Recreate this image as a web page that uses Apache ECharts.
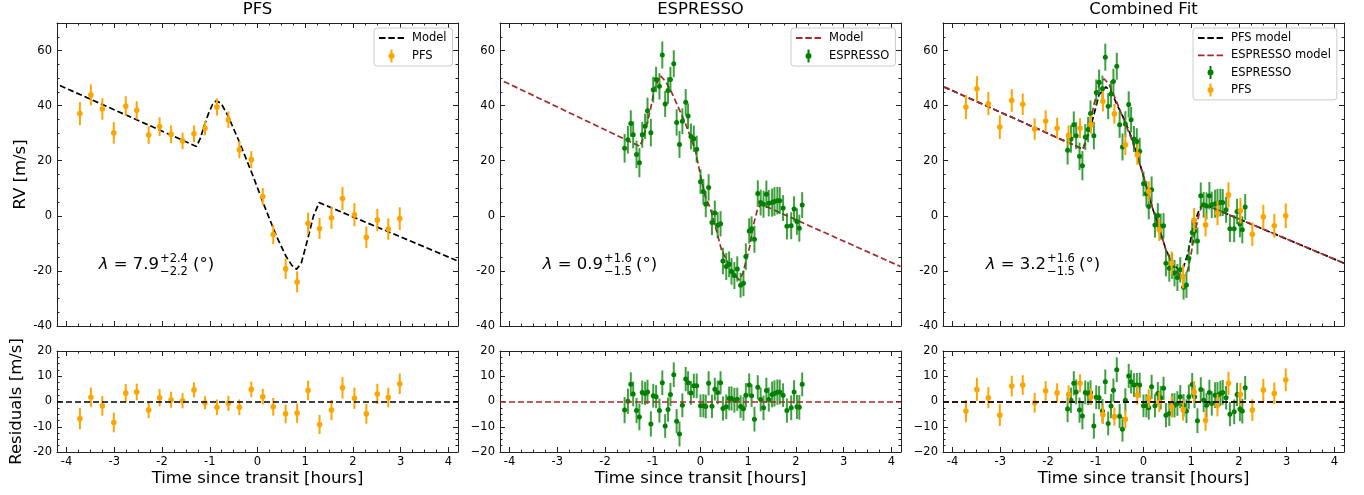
<!DOCTYPE html>
<html>
<head>
<meta charset="utf-8">
<script src="https://cdn.jsdelivr.net/npm/echarts@6/dist/echarts.min.js"></script>
<style>
    html, body {margin: 0; padding: 0; background: #fff;}
    #main {width: 1364px; height: 495px;}
</style>
</head>
<body>
<div id="main"></div>
<script>
// ---- PFS (panel 1) ----
const pfsT = [-3.72, -3.49, -3.25, -3.01, -2.76, -2.53, -2.28, -2.05, -1.81, -1.57, -1.33, -1.10, -0.85, -0.61, -0.38,
    -0.13, 0.11, 0.33, 0.59, 0.83, 1.06, 1.30, 1.55, 1.78, 2.03, 2.28, 2.51, 2.74, 2.98];
const pfsRV = [37.1, 43.9, 38.8, 30.1, 39.8, 38.3, 29.3, 32.4, 29.6, 27.2, 29.8, 31.8, 39.5, 34.9, 24.0,
    20.4, 7.0, -6.8, -19.2, -24.0, -2.7, -4.6, -0.7, 6.3, 0.4, -7.8, -1.5, -4.8, -1.0];
const pfsErr = [4.2, 3.8, 3.9, 3.9, 3.6, 3.3, 3.2, 3.4, 3.2, 3.0, 3.0, 2.6, 3.1, 3.0, 3.1,
    3.1, 3.1, 3.5, 3.7, 3.8, 3.9, 3.8, 4.0, 4.2, 4.2, 3.9, 4.0, 3.9, 4.1];
const pfsRes = [-6.8, 1.7, -1.7, -8.3, 3.3, 3.8, -3.4, 1.5, 0.7, 0.3, 4.6, -0.5, -2.3, -0.7, -2.3,
    4.8, 1.9, -2.1, -4.9, -4.6, 4.4, -9.1, -3.4, 5.4, 1.3, -4.9, 3.0, 1.6, 7.0];
const pfsModelT = [-4.14, -1.28, -1.20, -1.12, -1.03, -0.94, -0.86, -0.76, -0.61, -0.37, -0.09, 0.12, 0.40, 0.60,
    0.72, 0.82, 0.92, 1.03, 1.17, 1.29, 4.17];
const pfsModelRV = [47.3, 25.2, 28.0, 32.5, 37.0, 40.5, 41.8, 40.8, 36.0, 26.4, 14.3, 4.6, -7.5, -14.8,
    -18.0, -19.4, -17.0, -9.9, -0.2, 4.8, -16.2];

// ---- ESPRESSO (panel 2) ----
const espT = [-1.59, -1.52, -1.46, -1.41, -1.34, -1.28, -1.22, -1.16, -1.11, -1.04, -0.99, -0.93, -0.86, -0.80, -0.74,
    -0.68, -0.63, -0.56, -0.50, -0.44, -0.38, -0.31, -0.26, -0.20, -0.14, -0.08, 0.00, 0.06, 0.11, 0.17,
    0.24, 0.30, 0.36, 0.42, 0.47, 0.54, 0.60, 0.65, 0.71, 0.77, 0.84, 0.90, 0.95, 1.02, 1.07,
    1.13, 1.20, 1.26, 1.32, 1.38, 1.43, 1.50, 1.55, 1.61, 1.66, 1.73, 1.81, 1.90, 1.96, 2.02, 2.07, 2.13];
const espRV = [24.5, 27.6, 33.5, 29.4, 22.3, 19.3, 29.4, 32.5, 38.1, 30.2, 45.8, 49.5, 47.0, 58.4, 40.6,
    45.5, 49.5, 55.2, 33.9, 25.9, 34.3, 41.2, 36.2, 28.8, 28.0, 24.2, 12.4, 8.8, 4.2, 10.3,
    -2.4, 1.0, -3.4, -2.9, -16.4, -18.4, -17.6, -20.2, -21.7, -19.3, -25.2, -24.5, -14.8, -5.5, -4.7,
    -8.5, 8.1, 4.8, 4.2, 7.8, 4.6, 4.8, 5.2, 5.5, 5.5, 2.8, -3.8, -3.6, 2.5, -2.1, -4.5, 3.9];
const espErr = [5.2, 5.0, 4.8, 4.9, 5.0, 5.3, 4.7, 4.6, 4.8, 5.0, 4.7, 4.6, 4.8, 4.9, 4.7,
    4.8, 4.6, 4.9, 4.8, 4.9, 4.7, 4.8, 4.6, 4.7, 4.8, 4.9, 4.5, 4.6, 4.7, 4.8,
    4.6, 4.5, 4.7, 4.6, 4.8, 4.9, 4.7, 4.8, 4.9, 4.6, 4.5, 4.7, 4.8, 4.6, 4.5,
    4.9, 4.8, 4.7, 4.9, 5.0, 4.8, 5.1, 5.2, 5.0, 4.9, 4.7, 4.8, 4.9, 4.6, 4.8, 4.9, 4.7];
const espRes = [-3.4, 0.1, 6.8, 3.0, -3.6, -6.1, 3.6, 3.2, 3.8, -8.9, 2.3, 1.9, -3.6, 7.4, -9.7,
    -3.2, 2.8, 10.6, -7.8, -12.9, -1.5, 8.9, 7.4, 3.4, 6.2, 6.2, -1.7, -1.7, -2.0, 7.2,
    -1.9, 4.9, 3.6, 7.4, -2.8, -2.1, 1.2, 1.2, 0.5, 0.9, -2.0, -2.9, 2.5, 6.5, 2.3,
    -7.0, 5.6, 0.8, -2.5, 4.4, 0.8, 2.8, 3.2, 3.7, 3.8, 2.5, -3.6, -2.5, 3.8, -2.1, -2.3, 6.8];
const espModelT = [-4.12, -1.27, -1.21, -1.15, -1.05, -0.96, -0.84, -0.72, -0.60, -0.46, -0.32, -0.11, -0.01, 0.10,
    0.20, 0.33, 0.44, 0.58, 0.68, 0.81, 0.89, 0.96, 1.03, 1.10, 1.20, 1.27, 4.19];
const espModelRV = [48.8, 25.2, 27.8, 31.3, 38.5, 46.4, 50.9, 48.5, 44.6, 39.2, 33.7, 24.0, 15.5, 7.0,
    3.0, -5.1, -12.4, -17.2, -20.8, -23.3, -20.8, -16.0, -11.2, -3.9, 2.8, 4.2, -18.4];

// ---- Combined fit (panel 3) ----
const pfsRVComb = [39.5, 46.1, 40.7, 32.2, 41.9, 40.5, 31.5, 34.4, 31.8, 29.2, 31.8, 33.1, 41.6, 37.0, 25.8,
    22.2, 8.8, -5.1, -17.2, -22.1, -1.5, -3.3, 1.0, 7.6, 1.8, -6.7, -0.4, -3.6, 0.0];
const pfsErrComb = [4.4, 4.6, 4.2, 4.3, 4.1, 3.9, 3.9, 3.9, 3.8, 3.6, 3.6, 3.3, 3.7, 3.6, 3.7,
    3.7, 3.7, 4.0, 4.2, 4.2, 4.3, 4.2, 4.4, 4.6, 4.6, 4.3, 4.4, 4.3, 4.5];
const pfsResComb = [-3.8, 4.8, 1.5, -5.4, 6.1, 6.5, -0.5, 4.2, 3.4, 2.8, 7.2, 1.9, -5.2, -6.0, -7.0,
    2.5, 1.2, -0.2, -2.1, -3.4, 3.8, -7.4, -1.5, 7.2, 2.8, -3.4, 4.6, 3.2, 8.6];
const espRVComb = [23.8, 27.9, 33.1, 29.1, 21.6, 18.2, 28.6, 31.3, 37.1, 29.1, 44.8, 48.5, 46.1, 57.6, 39.8,
    44.2, 48.8, 54.3, 33.1, 25.0, 33.3, 40.4, 34.9, 27.9, 27.0, 23.4, 11.6, 8.0, 3.4, 9.5,
    -3.3, 0.1, -3.9, -3.6, -17.2, -19.0, -18.2, -20.8, -22.4, -19.6, -25.9, -25.1, -15.4, -6.1, -5.5,
    -9.1, 7.3, 4.0, 3.6, 7.3, 4.0, 4.4, 4.6, 4.8, 4.8, 2.2, -4.7, -4.7, 1.6, -3.0, -5.1, 3.2];
const espResComb = [-3.0, 0.5, 7.2, 3.8, -3.4, -5.7, 3.6, 3.2, 3.6, -9.7, 1.7, 1.5, -3.8, 7.8, -8.7,
    -1.8, 4.5, 12.6, -5.8, -11.0, 0.5, 10.1, 7.8, 6.5, 6.5, 6.5, -1.7, -1.7, -2.5, 5.8,
    -1.7, 3.2, 1.5, 5.2, -5.4, -4.8, -1.5, -1.5, -0.8, 1.9, -1.5, -3.8, 1.9, 6.7, 1.9,
    -7.6, 4.8, 0.5, -1.5, 3.6, -0.8, 2.5, 2.5, 3.2, 3.6, 1.5, -5.0, -4.1, 2.8, -3.0, -3.8, 5.4];
const combPfsModelT = [-4.18, -1.27, -1.14, -1.03, -0.93, -0.79, -0.68, -0.54, -0.40, -0.23, -0.06, 0.08, 0.20,
    0.33, 0.47, 0.61, 0.72, 0.82, 0.93, 1.03, 1.14, 1.24, 4.20];
const combPfsModelRV = [46.8, 24.2, 30.1, 37.3, 44.0, 46.8, 45.2, 39.8, 34.9, 27.6, 17.9, 9.5, 2.2,
    -4.5, -12.4, -17.2, -19.3, -19.6, -13.6, -5.1, 1.0, 4.4, -17.2];
const combEspModelT = [-4.18, -1.27, -1.14, -1.03, -0.93, -0.82, -0.72, -0.61, -0.44, -0.26, -0.06, 0.08, 0.20,
    0.33, 0.47, 0.61, 0.75, 0.84, 0.93, 1.00, 1.07, 1.17, 1.24, 4.20];
const combEspModelRV = [46.8, 24.2, 31.3, 41.0, 47.6, 49.7, 47.6, 43.4, 36.1, 28.2, 17.9, 9.5, 2.2,
    -4.5, -12.4, -17.5, -21.5, -22.7, -19.6, -13.6, -6.3, 1.0, 4.4, -17.2];

// ---- axes / ticks ----
const titles = ['PFS', 'ESPRESSO', 'Combined Fit'];
const lambdaVals = [['7.9', '+2.4', '\u22122.2'], ['0.9', '+1.6', '\u22121.5'], ['3.2', '+1.6', '\u22121.5']];
const xTicks = [-4, -3, -2, -1, 0, 1, 2, 3, 4];
const rvTicks = [-40, -20, 0, 20, 40, 60];
const resTicks = [-20, -10, 0, 10, 20];
const X_MIN = -4.2, X_MAX = 4.2;

function minorTicks(from, to, step, major) {
    const out = [];
    for (let v = from; v <= to + 1e-9; v += step) {
        const r = Math.round(v * 1000) / 1000;
        if (major.indexOf(r) < 0) out.push(r);
    }
    return out;
}
const xMinor = minorTicks(-4, 4, 0.25, xTicks);
const rvMinor = minorTicks(-40, 70, 5, rvTicks);
const resMinor = minorTicks(-20, 20, 2.5, resTicks);

const C_PFS = '#ffa500', C_ESP = '#008000', C_BROWN = '#a52a2a', C_AX = '#222';
const FONT = 'DejaVu Sans';
// legend icons: errorbar marker and dashed line, both in a 25x14 box
const EB_ICON = 'path://M0,0M25,14M11.5,0.5h2v4h-2zM11.5,9.5h2v4h-2z' +
    'M15.5,7a3,3 0 1,1 -6,0a3,3 0 1,1 6,0z';
const DASH_ICON = 'path://M0,0M25,14M0,6.1h6.5v1.8h-6.5zM9.3,6.1h6.5v1.8h-6.5zM18.6,6.1h6.4v1.8h-6.4z';

const zip = (a, b) => a.map((v, i) => [v, b[i]]);
const zip3 = (a, b, c) => a.map((v, i) => [v, b[i], c[i]]);
const hyphen = v => String(v);
const minus = v => (v < 0 ? '\u2212' + (-v) : String(v));

const colLeft = [57, 500, 943];
const grids = [];
colLeft.forEach(l => {
    grids.push({left: l, top: 23, width: 401, height: 303, outerBoundsMode: 'none'});
    grids.push({left: l, top: 351, width: 401, height: 101, outerBoundsMode: 'none'});
});

const xAxes = [], yAxes = [];
function addAxes(list, gi, dim, min, max, major, minor, label, extra) {
    const sides = dim === 'x' ? ['bottom', 'top'] : ['left', 'right'];
    sides.forEach((pos, si) => {
        [major, minor].forEach((vals, k) => {
            const ax = {
                type: 'value', gridIndex: gi, position: pos, min: min, max: max,
                axisLine: {show: k === 0, onZero: false, lineStyle: {color: C_AX, width: 1}},
                splitLine: {show: false},
                axisTick: {show: true, inside: true, length: k === 0 ? 5 : 2.5, customValues: vals,
                    lineStyle: {color: C_AX, width: 1}},
                axisLabel: {show: false}
            };
            if (si === 0 && k === 0) {
                if (label) {
                    ax.axisLabel = {show: true, customValues: major, color: '#000', fontSize: 11.5,
                        fontFamily: FONT, margin: dim === 'x' ? 4 : 5, formatter: label};
                }
                if (extra) Object.assign(ax, extra);
            }
            list.push(ax);
        });
    });
}

const nameStyle = {fontSize: 16.5, color: '#000', fontFamily: FONT};
for (let c = 0; c < 3; c++) {
    const gTop = c * 2, gRes = c * 2 + 1;
    addAxes(xAxes, gTop, 'x', X_MIN, X_MAX, xTicks, xMinor, null, null);
    addAxes(yAxes, gTop, 'y', -40, 70, rvTicks, rvMinor, hyphen,
        c === 0 ? {name: 'RV [m/s]', nameLocation: 'middle', nameGap: 27, nameTextStyle: nameStyle} : null);
    addAxes(xAxes, gRes, 'x', X_MIN, X_MAX, xTicks, xMinor, hyphen,
        {name: 'Time since transit [hours]', nameLocation: 'middle', nameGap: 18, nameTextStyle: nameStyle});
    addAxes(yAxes, gRes, 'y', -20, 20, resTicks, resMinor, c === 0 ? hyphen : minus,
        c === 0 ? {name: 'Residuals [m/s]', nameLocation: 'middle', nameGap: 32, nameTextStyle: nameStyle} : null);
}

function errRender(color, barW, r, barOpacity) {
    return function (params, api) {
        const x = api.value(0), y = api.value(1), e = api.value(2);
        const lo = api.coord([x, y - e]), hi = api.coord([x, y + e]), c = api.coord([x, y]);
        return {
            type: 'group',
            children: [
                {type: 'line', shape: {x1: lo[0], y1: lo[1], x2: hi[0], y2: hi[1]},
                    style: {stroke: color, lineWidth: barW, opacity: barOpacity}},
                {type: 'circle', shape: {cx: c[0], cy: c[1], r: r}, style: {fill: color}}
            ]
        };
    };
}

function errSeries(name, gi, t, v, e, color, barW, r, op, zeroColor) {
    const s = {
        type: 'custom', name: name, xAxisIndex: gi * 4, yAxisIndex: gi * 4,
        data: zip3(t, v, e), encode: {x: 0, y: 1},
        renderItem: errRender(color, barW, r, op),
        itemStyle: {color: color}, z: 3, silent: true
    };
    if (zeroColor) {
        s.markLine = {silent: true, symbol: 'none', label: {show: false}, animation: false,
            lineStyle: {color: zeroColor, type: [6, 3], width: 1.7}, data: [{yAxis: 0}]};
    }
    return s;
}

function modelSeries(name, gi, t, v, color) {
    return {
        type: 'line', name: name, xAxisIndex: gi * 4, yAxisIndex: gi * 4,
        data: zip(t, v), symbol: 'none', showSymbol: false, silent: true, z: 2,
        lineStyle: {color: color, width: 1.7, type: [6, 3]}, itemStyle: {color: color}
    };
}

const series = [
    modelSeries('Model', 0, pfsModelT, pfsModelRV, '#000'),
    errSeries('PFS', 0, pfsT, pfsRV, pfsErr, C_PFS, 2, 2.8, 1),
    errSeries('pfs-res', 1, pfsT, pfsRes, pfsErr, C_PFS, 2, 2.8, 1, '#000'),

    modelSeries('Model ', 2, espModelT, espModelRV, C_BROWN),
    errSeries('ESPRESSO', 2, espT, espRV, espErr, C_ESP, 2, 2.5, 0.75),
    errSeries('esp-res', 3, espT, espRes, espErr, C_ESP, 2, 2.5, 0.75, C_BROWN),

    modelSeries('PFS model', 4, combPfsModelT, combPfsModelRV, '#000'),
    modelSeries('ESPRESSO model', 4, combEspModelT, combEspModelRV, C_BROWN),
    errSeries('ESPRESSO', 4, espT, espRVComb, espErr, C_ESP, 2, 2.5, 0.75),
    errSeries('PFS', 4, pfsT, pfsRVComb, pfsErrComb, C_PFS, 2, 2.8, 1),
    errSeries('esp-res-c', 5, espT, espResComb, espErr, C_ESP, 2, 2.5, 0.75, C_BROWN),
    errSeries('pfs-res-c', 5, pfsT, pfsResComb, pfsErrComb, C_PFS, 2, 2.8, 1, '#000')
];

const legendBase = {
    orient: 'vertical', itemWidth: 25, itemHeight: 14, itemGap: 4,
    padding: [3, 6, 3, 5], borderColor: '#ccc', borderWidth: 1, borderRadius: 3,
    backgroundColor: '#fff', selectedMode: false,
    textStyle: {fontSize: 11.5, color: '#000', fontFamily: FONT, padding: [0, 0, 0, 3]},
    formatter: n => n.trim()
};
const legends = [
    Object.assign({}, legendBase, {left: 374, top: 28,
        data: [{name: 'Model', icon: DASH_ICON}, {name: 'PFS', icon: EB_ICON}]}),
    Object.assign({}, legendBase, {left: 791, top: 28,
        data: [{name: 'Model ', icon: DASH_ICON}, {name: 'ESPRESSO', icon: EB_ICON}]}),
    Object.assign({}, legendBase, {left: 1193, top: 28, itemGap: 3.3,
        data: [{name: 'PFS model', icon: DASH_ICON}, {name: 'ESPRESSO model', icon: DASH_ICON},
            {name: 'ESPRESSO', icon: EB_ICON}, {name: 'PFS', icon: EB_ICON}]})
];

const titleOpts = titles.map((t, i) => ({
    text: t, left: colLeft[i] + 200.5, top: 1, padding: 0, textAlign: 'center',
    textStyle: {fontSize: 16.5, fontWeight: 'normal', color: '#000', fontFamily: FONT}
}));

const lambdaPos = [[159, 193], [603, 636], [1046, 1079]];
const graphics = [];
lambdaVals.forEach((lv, i) => {
    const xr = lambdaPos[i][0], xp = lambdaPos[i][1];
    graphics.push({type: 'text', x: xr, y: 265, silent: true, style: {
        text: '{i|\u03bb} = ' + lv[0], fontSize: 16.5, fontFamily: FONT, fill: '#000',
        align: 'right', verticalAlign: 'middle',
        rich: {i: {fontStyle: 'italic', fontSize: 16.5, fontFamily: FONT}}}});
    graphics.push({type: 'text', x: xr + 1, y: 259, silent: true, style: {
        text: lv[1], fontSize: 11.5, fontFamily: FONT, fill: '#000', align: 'left', verticalAlign: 'middle'}});
    graphics.push({type: 'text', x: xr + 1, y: 272, silent: true, style: {
        text: lv[2], fontSize: 11.5, fontFamily: FONT, fill: '#000', align: 'left', verticalAlign: 'middle'}});
    graphics.push({type: 'text', x: xp, y: 265, silent: true, style: {
        text: '(\u00b0)', fontSize: 16.5, fontFamily: FONT, fill: '#000', align: 'left', verticalAlign: 'middle'}});
});

const chart = echarts.init(document.getElementById('main'));
chart.setOption({
    animation: false,
    backgroundColor: '#fff',
    textStyle: {fontFamily: FONT},
    title: titleOpts,
    legend: legends,
    grid: grids,
    xAxis: xAxes,
    yAxis: yAxes,
    series: series,
    graphic: graphics
});
</script>
</body>
</html>
